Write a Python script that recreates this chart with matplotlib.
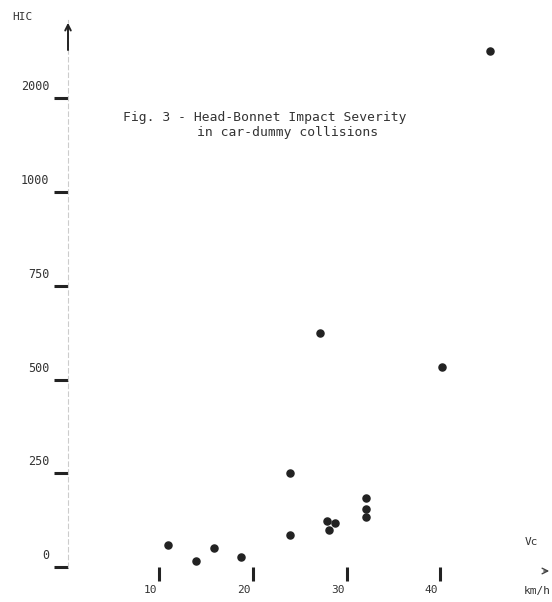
import numpy as np
import matplotlib.pyplot as plt
from matplotlib.transforms import ScaledTranslation

# impact speed (km/h) and HIC
speed = [10.9, 13.9, 15.8, 18.7, 23.9, 24.0, 27.1, 27.9, 28.1, 28.8,
         32.1, 32.1, 32.1, 40.2, 45.3]
hic = [59, 16, 50, 26, 85, 250, 624, 124, 99, 118,
       183, 155, 134, 535, 2490]

x_ticks = [10, 20, 30, 40]
x_labels = ['10', '20', '30', '40']
y_ticks = [0, 250, 500, 750, 1000, 2000]
y_labels = ['0', '250', '500', '750', '1000', '2000']

K = 0.253  # compression of the scale above 1000


def fwd(v):
    v = np.asarray(v, dtype=float)
    return np.where(v <= 1000, v, 1000 + (v - 1000) * K)


def inv(t):
    t = np.asarray(t, dtype=float)
    return np.where(t <= 1000, t, 1000 + (t - 1000) / K)


mono = 'DejaVu Sans Mono'
ink = '#333333'

fig = plt.figure(figsize=(5.52, 6.02), dpi=100)
ax = fig.add_axes([68 / 552, 35 / 602, 477 / 552, 547 / 602])
ax.set_yscale('function', functions=(fwd, inv))
ax.set_xlim(0.256, 51.16)
ax.set_ylim(0, 2820)

ax.scatter(speed, hic, s=26, color='#222222', zorder=3, clip_on=False)

for side in ['top', 'right', 'bottom']:
    ax.spines[side].set_visible(False)
ax.spines['left'].set_color('#cccccc')
ax.spines['left'].set_linestyle((0, (4, 3)))
ax.spines['left'].set_linewidth(0.8)

ax.set_yticks(y_ticks)
ax.set_yticklabels(y_labels, fontfamily=mono, fontsize=8.5, color=ink)
ax.set_xticks(x_ticks)
ax.set_xticklabels(x_labels, fontfamily=mono, fontsize=8, color=ink)
ax.tick_params(axis='y', direction='out', length=10, width=2.2,
               color='#222222', pad=3.5)
ax.tick_params(axis='x', direction='out', length=10, width=2.2,
               color='#222222', pad=3)
ax.yaxis.set_minor_locator(plt.NullLocator())

for lab in ax.get_yticklabels():
    lab.set_transform(lab.get_transform() +
                      ScaledTranslation(0, 0.13, fig.dpi_scale_trans))
for lab in ax.get_xticklabels():
    lab.set_transform(lab.get_transform() +
                      ScaledTranslation(-0.09, 0, fig.dpi_scale_trans))

# y arrow at the top of the axis
ax.annotate('', xy=(0, 1.0), xytext=(0, 0.94), xycoords='axes fraction',
            arrowprops=dict(arrowstyle='->', color='#222222', lw=1.4),
            annotation_clip=False)
# x arrow at the right
ax.annotate('', xy=(552, 602 - 571), xytext=(541, 602 - 571),
            xycoords='figure pixels',
            arrowprops=dict(arrowstyle='->', color='#444444', lw=1.0),
            annotation_clip=False)

fig.text(12 / 552, 1 - 17 / 602, 'HIC', fontfamily=mono, fontsize=8,
         color=ink, va='center')
fig.text(525 / 552, 1 - 542 / 602, 'Vc', fontfamily=mono, fontsize=8,
         color=ink, va='center')
fig.text(524 / 552, 1 - 591 / 602, 'km/h', fontfamily=mono, fontsize=8,
         color=ink, va='center')

fig.text(123 / 552, 1 - 117 / 602, 'Fig. 3 - Head-Bonnet Impact Severity',
         fontfamily=mono, fontsize=9.4, color=ink, va='center')
fig.text(197 / 552, 1 - 133 / 602, 'in car-dummy collisions',
         fontfamily=mono, fontsize=9.4, color=ink, va='center')

fig.savefig('out.png', dpi=100)
